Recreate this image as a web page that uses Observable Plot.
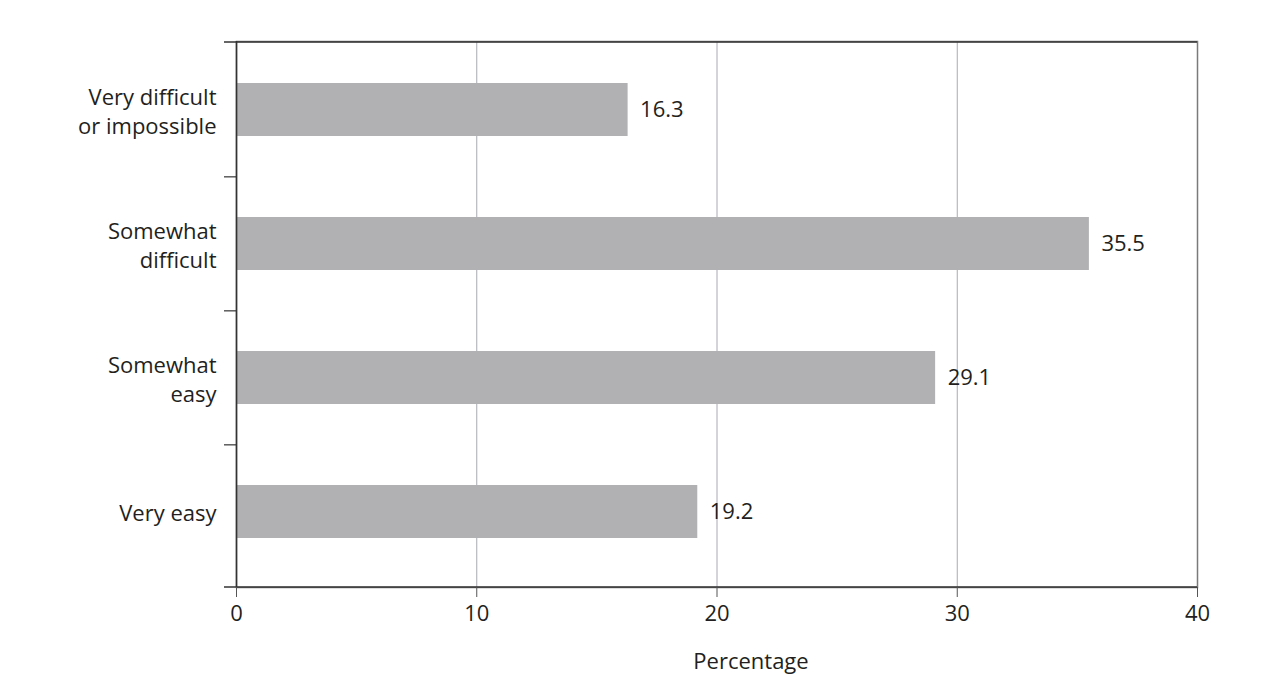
<!DOCTYPE html>
<html><head><meta charset="utf-8">
<script src="https://cdn.jsdelivr.net/npm/d3@7"></script>
<script src="https://cdn.jsdelivr.net/npm/@observablehq/plot@0.6"></script>
<style>body{margin:0;background:#fff}</style>
</head><body><div id="chart"></div>
<script>
const categories = ["Very difficult\nor impossible", "Somewhat\ndifficult", "Somewhat\neasy", "Very easy"];
const values = [16.3, 35.5, 29.1, 19.2];
const xTicks = [0, 10, 20, 30, 40];
const xLabel = "Percentage";
const data = categories.map((c, i) => ({category: c, value: values[i]}));

const W = 1283, H = 685, mL = 236, mR = 86, mT = 41, mB = 98;
const yOpts = {domain: categories, paddingInner: 0.605, paddingOuter: 0.335, align: 0.46};
const band = d3.scaleBand().domain(categories).range([mT, H - mB])
  .paddingInner(yOpts.paddingInner).paddingOuter(yOpts.paddingOuter).align(yOpts.align);
const step = band.step();
const firstCenter = band(categories[0]) + band.bandwidth() / 2;
const lastCenter = band(categories[categories.length - 1]) + band.bandwidth() / 2;
const ink = "#231f20";
const dark = "#333";

const chart = Plot.plot({
  width: W, height: H,
  marginLeft: mL, marginRight: mR, marginTop: mT, marginBottom: mB,
  style: {fontFamily: "'Open Sans', sans-serif", fontSize: "22px", color: ink, background: "#fff"},
  x: {domain: [0, 40]},
  y: yOpts,
  marks: [
    Plot.ruleX(xTicks.slice(1, -1), {stroke: "#a9a9b2", strokeWidth: 1}),
    Plot.barX(data, {x: "value", y: "category", fill: "#b1b1b3"}),
    Plot.text(data, {x: "value", y: "category", text: d => d.value.toFixed(1), textAnchor: "start", dx: 12, fill: ink}),
    Plot.frame({stroke: "#7a7a7a", strokeWidth: 1.5}),
    Plot.ruleX([0], {stroke: dark, strokeWidth: 1.5}),
    Plot.ruleY(categories.slice(1), {y: d => d, x1: -0.5, x2: 0, dy: -step / 2, stroke: dark, strokeWidth: 1.2}),
    Plot.ruleY([categories[0]], {y: d => d, x1: -0.5, x2: 40, dy: mT - firstCenter, stroke: dark, strokeWidth: 1.5}),
    Plot.ruleY([categories[categories.length - 1]], {y: d => d, x1: -0.5, x2: 40, dy: (H - mB) - lastCenter, stroke: dark, strokeWidth: 1.5}),
    Plot.axisX({ticks: xTicks, tickSize: 10, tickPadding: 8, stroke: "#555", fill: ink, label: null}),
    Plot.axisY({tickSize: 0, tickPadding: 20, lineHeight: 1.32, fill: ink, label: null}),
    Plot.text([xLabel], {text: d => d, frameAnchor: "bottom", dx: 34, dy: 81, fill: ink})
  ]
});
document.getElementById("chart").appendChild(chart);
</script>
</body></html>
